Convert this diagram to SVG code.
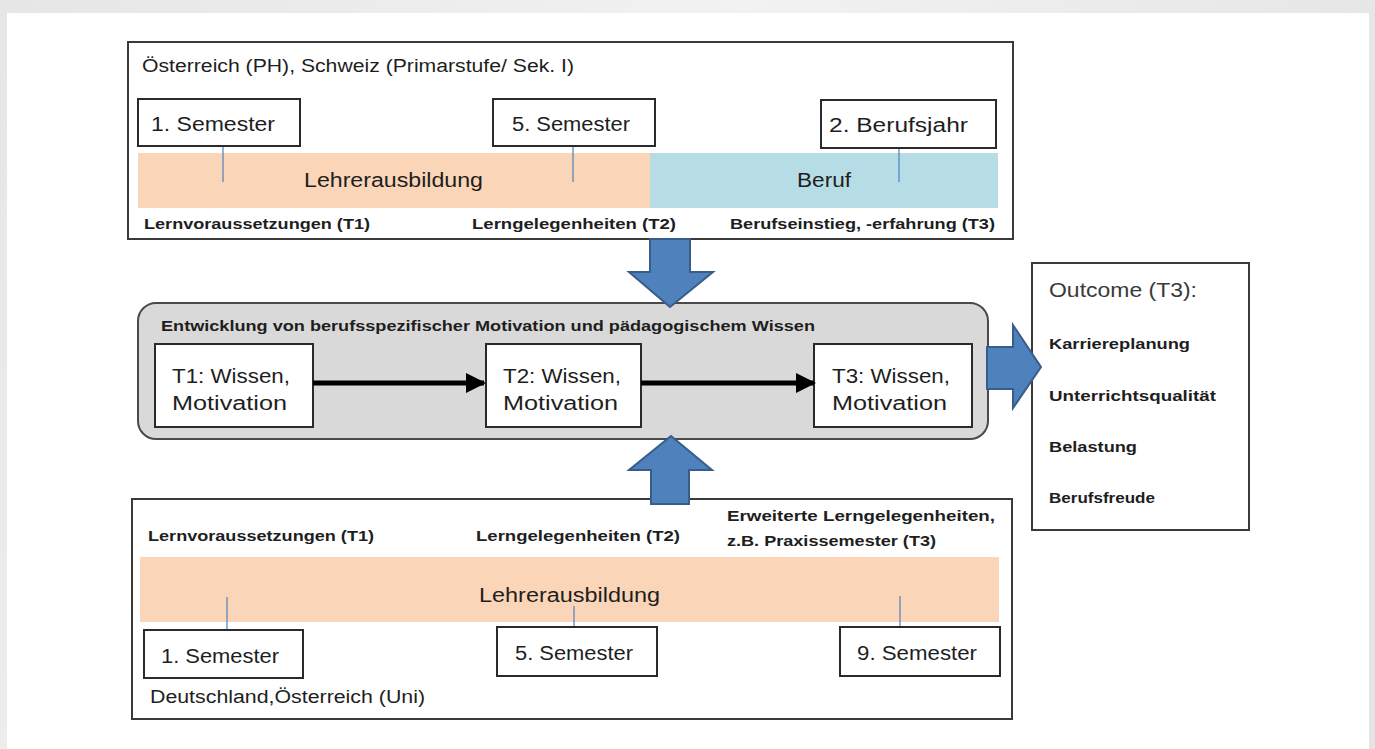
<svg xmlns="http://www.w3.org/2000/svg" width="1375" height="749" viewBox="0 0 1375 749">
<defs>
<linearGradient id="bg" x1="0" y1="0" x2="1" y2="0.3">
<stop offset="0" stop-color="#e6e6e6"/>
<stop offset="0.5" stop-color="#f2f2f2"/>
<stop offset="1" stop-color="#e4e4e4"/>
</linearGradient>
<marker id="ah" viewBox="0 0 10 10" refX="9" refY="5" markerWidth="4" markerHeight="4" orient="auto" markerUnits="strokeWidth">
<path d="M0,0 L10,5 L0,10 Z" fill="#000"/>
</marker>
</defs>
<style>
.frame{fill:#fff;stroke:#3a3a3a;stroke-width:2}
.lbl{fill:#fff;stroke:#2a2a2a;stroke-width:2}
.t{font-family:"Liberation Sans",Arial,sans-serif;fill:#1e1e1e}
.r20{font-size:20px}
.r18{font-size:18px}
.b15{font-size:15px;font-weight:bold}
.tick{stroke:#4f81bd;stroke-width:1.2}
.blk{fill:#4f81bd;stroke:#385d8a;stroke-width:2;stroke-linejoin:miter}
.con{stroke:#000;stroke-width:5;fill:none}
</style>
<rect x="0" y="0" width="1375" height="749" fill="url(#bg)"/>
<rect x="7" y="13" width="1362" height="736" fill="#fff"/>

<g id="top-panel">
<rect class="frame" x="128" y="42" width="885" height="197"/>
<text class="t r18" x="142" y="72" textLength="432" lengthAdjust="spacingAndGlyphs">Österreich (PH), Schweiz (Primarstufe/ Sek. I)</text>
<rect x="138" y="153" width="512" height="55" fill="#fbd5b7"/>
<rect x="650" y="153" width="348" height="55" fill="#b6dde6"/>
<text class="t r20" x="304" y="187" textLength="179" lengthAdjust="spacingAndGlyphs">Lehrerausbildung</text>
<text class="t r20" x="797" y="187" textLength="54" lengthAdjust="spacingAndGlyphs">Beruf</text>
<line class="tick" x1="223" y1="146" x2="223" y2="182"/>
<line class="tick" x1="573" y1="146" x2="573" y2="182"/>
<line class="tick" x1="899" y1="148" x2="899" y2="182"/>
<text class="t b15" x="144" y="229" textLength="226" lengthAdjust="spacingAndGlyphs">Lernvoraussetzungen (T1)</text>
<text class="t b15" x="472" y="229" textLength="204" lengthAdjust="spacingAndGlyphs">Lerngelegenheiten (T2)</text>
<text class="t b15" x="730" y="229" textLength="265" lengthAdjust="spacingAndGlyphs">Berufseinstieg, -erfahrung (T3)</text>
</g>
<g id="top-sem1">
<rect class="lbl" x="138" y="99" width="162" height="47"/>
<text class="t r20" x="151" y="131" textLength="124" lengthAdjust="spacingAndGlyphs">1. Semester</text>
</g>
<g id="top-sem5">
<rect class="lbl" x="493" y="99" width="162" height="47"/>
<text class="t r20" x="512" y="131" textLength="118" lengthAdjust="spacingAndGlyphs">5. Semester</text>
</g>
<g id="top-beruf2">
<rect class="lbl" x="821" y="100" width="175" height="48"/>
<text class="t r20" x="829" y="132" textLength="139" lengthAdjust="spacingAndGlyphs">2. Berufsjahr</text>
</g>

<g id="middle-panel">
<rect x="138" y="303" width="850" height="136" rx="18" ry="18" fill="#d9d9d9" stroke="#4a4a4a" stroke-width="2"/>
<text class="t b15" x="161" y="331" textLength="654" lengthAdjust="spacingAndGlyphs">Entwicklung von berufsspezifischer Motivation und pädagogischem Wissen</text>
</g>
<g id="t1">
<rect class="lbl" x="155" y="344" width="158" height="83"/>
<text class="t r20" x="172" y="383" textLength="118" lengthAdjust="spacingAndGlyphs">T1: Wissen,</text>
<text class="t r20" x="172" y="410" textLength="115" lengthAdjust="spacingAndGlyphs">Motivation</text>
</g>
<g id="t2">
<rect class="lbl" x="486" y="344" width="155" height="83"/>
<text class="t r20" x="503" y="383" textLength="118" lengthAdjust="spacingAndGlyphs">T2: Wissen,</text>
<text class="t r20" x="503" y="410" textLength="115" lengthAdjust="spacingAndGlyphs">Motivation</text>
</g>
<g id="t3">
<rect class="lbl" x="814" y="344" width="158" height="83"/>
<text class="t r20" x="832" y="383" textLength="118" lengthAdjust="spacingAndGlyphs">T3: Wissen,</text>
<text class="t r20" x="832" y="410" textLength="115" lengthAdjust="spacingAndGlyphs">Motivation</text>
</g>

<g id="outcome">
<rect class="frame" x="1032" y="263" width="217" height="267"/>
<text class="t" x="1049" y="297" font-size="21" fill="#3a3a3a" style="fill:#3a3a3a" textLength="148" lengthAdjust="spacingAndGlyphs">Outcome (T3):</text>
<text class="t b15" x="1049" y="349" textLength="141" lengthAdjust="spacingAndGlyphs">Karriereplanung</text>
<text class="t b15" x="1049" y="401" textLength="167" lengthAdjust="spacingAndGlyphs">Unterrichtsqualität</text>
<text class="t b15" x="1049" y="452" textLength="88" lengthAdjust="spacingAndGlyphs">Belastung</text>
<text class="t b15" x="1049" y="503" textLength="106" lengthAdjust="spacingAndGlyphs">Berufsfreude</text>
</g>

<g id="bottom-panel">
<rect class="frame" x="132" y="499" width="880" height="220"/>
<text class="t b15" x="148" y="541" textLength="226" lengthAdjust="spacingAndGlyphs">Lernvoraussetzungen (T1)</text>
<text class="t b15" x="476" y="541" textLength="204" lengthAdjust="spacingAndGlyphs">Lerngelegenheiten (T2)</text>
<text class="t b15" x="727" y="521" textLength="268" lengthAdjust="spacingAndGlyphs">Erweiterte Lerngelegenheiten,</text>
<text class="t b15" x="727" y="546" textLength="209" lengthAdjust="spacingAndGlyphs">z.B. Praxissemester (T3)</text>
<rect x="140" y="557" width="859" height="65" fill="#fbd5b7"/>
<text class="t r20" x="479" y="602" textLength="181" lengthAdjust="spacingAndGlyphs">Lehrerausbildung</text>
<line class="tick" x1="227" y1="597" x2="227" y2="630"/>
<line class="tick" x1="574" y1="606" x2="574" y2="627"/>
<line class="tick" x1="900" y1="596" x2="900" y2="627"/>
<text class="t r18" x="150" y="703" textLength="275" lengthAdjust="spacingAndGlyphs">Deutschland,Österreich (Uni)</text>
</g>
<g id="bottom-sem1">
<rect class="lbl" x="144" y="630" width="159" height="48"/>
<text class="t r20" x="161" y="663" textLength="118" lengthAdjust="spacingAndGlyphs">1. Semester</text>
</g>
<g id="bottom-sem5">
<rect class="lbl" x="497" y="627" width="160" height="49"/>
<text class="t r20" x="515" y="660" textLength="118" lengthAdjust="spacingAndGlyphs">5. Semester</text>
</g>
<g id="bottom-sem9">
<rect class="lbl" x="840" y="627" width="160" height="49"/>
<text class="t r20" x="857" y="660" textLength="120" lengthAdjust="spacingAndGlyphs">9. Semester</text>
</g>

<g id="connectors">
<line class="con" x1="313" y1="383" x2="484" y2="383" marker-end="url(#ah)"/>
<line class="con" x1="641" y1="383" x2="814" y2="383" marker-end="url(#ah)"/>
<path class="blk" d="M650,239 L690,239 L690,272 L713,272 L670,307 L629,272 L650,272 Z"/>
<path class="blk" d="M651,504 L689,504 L689,470 L712,470 L671,436 L629,470 L651,470 Z"/>
<path class="blk" d="M987,347 L1013,347 L1013,325 L1041,367 L1013,408 L1013,389 L987,389 Z"/>
</g>
</svg>
